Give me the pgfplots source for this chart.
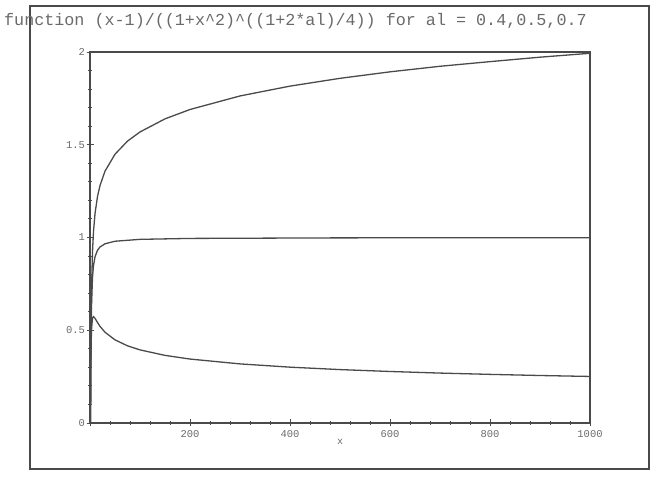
\documentclass[border=0pt]{standalone}
\usepackage{pgfplots}
\pgfplotsset{compat=1.18}
\usepackage{fontspec}
\setmainfont{Liberation Serif}
\setmonofont{Liberation Mono}
\definecolor{ink}{HTML}{4A4A4A}
\definecolor{txt}{HTML}{6A6A6A}
\begin{document}
\begin{tikzpicture}[x=1bp,y=1bp]
\useasboundingbox (0,0) rectangle (653,477);
\draw[ink, line width=2.4bp] (30,8) rectangle (649,471);
\node[anchor=base west, inner sep=0pt, text=txt, font=\fontsize{16.8}{18}\selectfont\ttfamily] at (4,451) {function (x-1)/((1+x\^{}2)\^{}((1+2*al)/4)) for al = 0.4,0.5,0.7};
\begin{axis}[
  at={(90bp,54bp)}, anchor=origin,
  scale only axis, width=500bp, height=371bp,
  xmin=0, xmax=1000, ymin=0, ymax=2,
  axis line style={ink, line width=1.3bp},
  xtick={0,200,400,600,800,1000},
  xticklabels={,200,400,600,800,1000},
  ytick={0,0.5,1,1.5,2},
  yticklabels={0,0.5,1,1.5,2},
  minor x tick num=4, minor y tick num=4,
  xtick pos=bottom, ytick pos=left,
  tick align=center,
  major tick length=7bp, minor tick length=4bp,
  every tick/.style={ink, line width=0.9bp},
  ticklabel style={text=txt, font=\fontsize{10.5}{12}\selectfont\ttfamily},
  yticklabel style={xshift=2bp},
  /pgf/number format/assume math mode=true,
  xlabel={x}, xlabel style={text=txt, font=\fontsize{10}{11}\selectfont\ttfamily, yshift=5bp},
  clip=true,
]
\addplot[ink, line width=1.3bp] coordinates {
(1,0) (1.5,0.294) (2,0.4847) (3,0.7096) (5,0.9233) (7,1.0319) (10,1.1279) (15,1.2213) (20,1.2802) (30,1.3575) (50,1.4489) (75,1.5195) (100,1.5689) (150,1.6395) (200,1.6900) (300,1.763) (400,1.816) (500,1.858) (600,1.893) (700,1.923) (800,1.948) (900,1.972) (1000,1.993)
};
\addplot[ink, line width=1.3bp] coordinates {
(1,0) (1.5,0.2774) (2,0.4472) (3,0.6325) (5,0.7845) (7,0.8485) (10,0.8955) (15,0.9313) (20,0.9488) (30,0.9661) (50,0.9798) (100,0.9900) (200,0.9950) (500,0.998) (1000,0.999)
};
\addplot[ink, line width=1.3bp] coordinates {
(1,0) (1.5,0.2465) (2,0.3807) (3,0.5024) (5,0.5663) (7,0.5738) (10,0.5645) (15,0.5416) (20,0.5210) (30,0.4893) (50,0.4481) (75,0.4160) (100,0.3941) (150,0.3645) (200,0.3447) (300,0.3186) (400,0.3010) (500,0.2879) (600,0.2777) (700,0.2691) (800,0.2621) (900,0.2560) (1000,0.2509)
};
\end{axis}
\end{tikzpicture}
\end{document}
